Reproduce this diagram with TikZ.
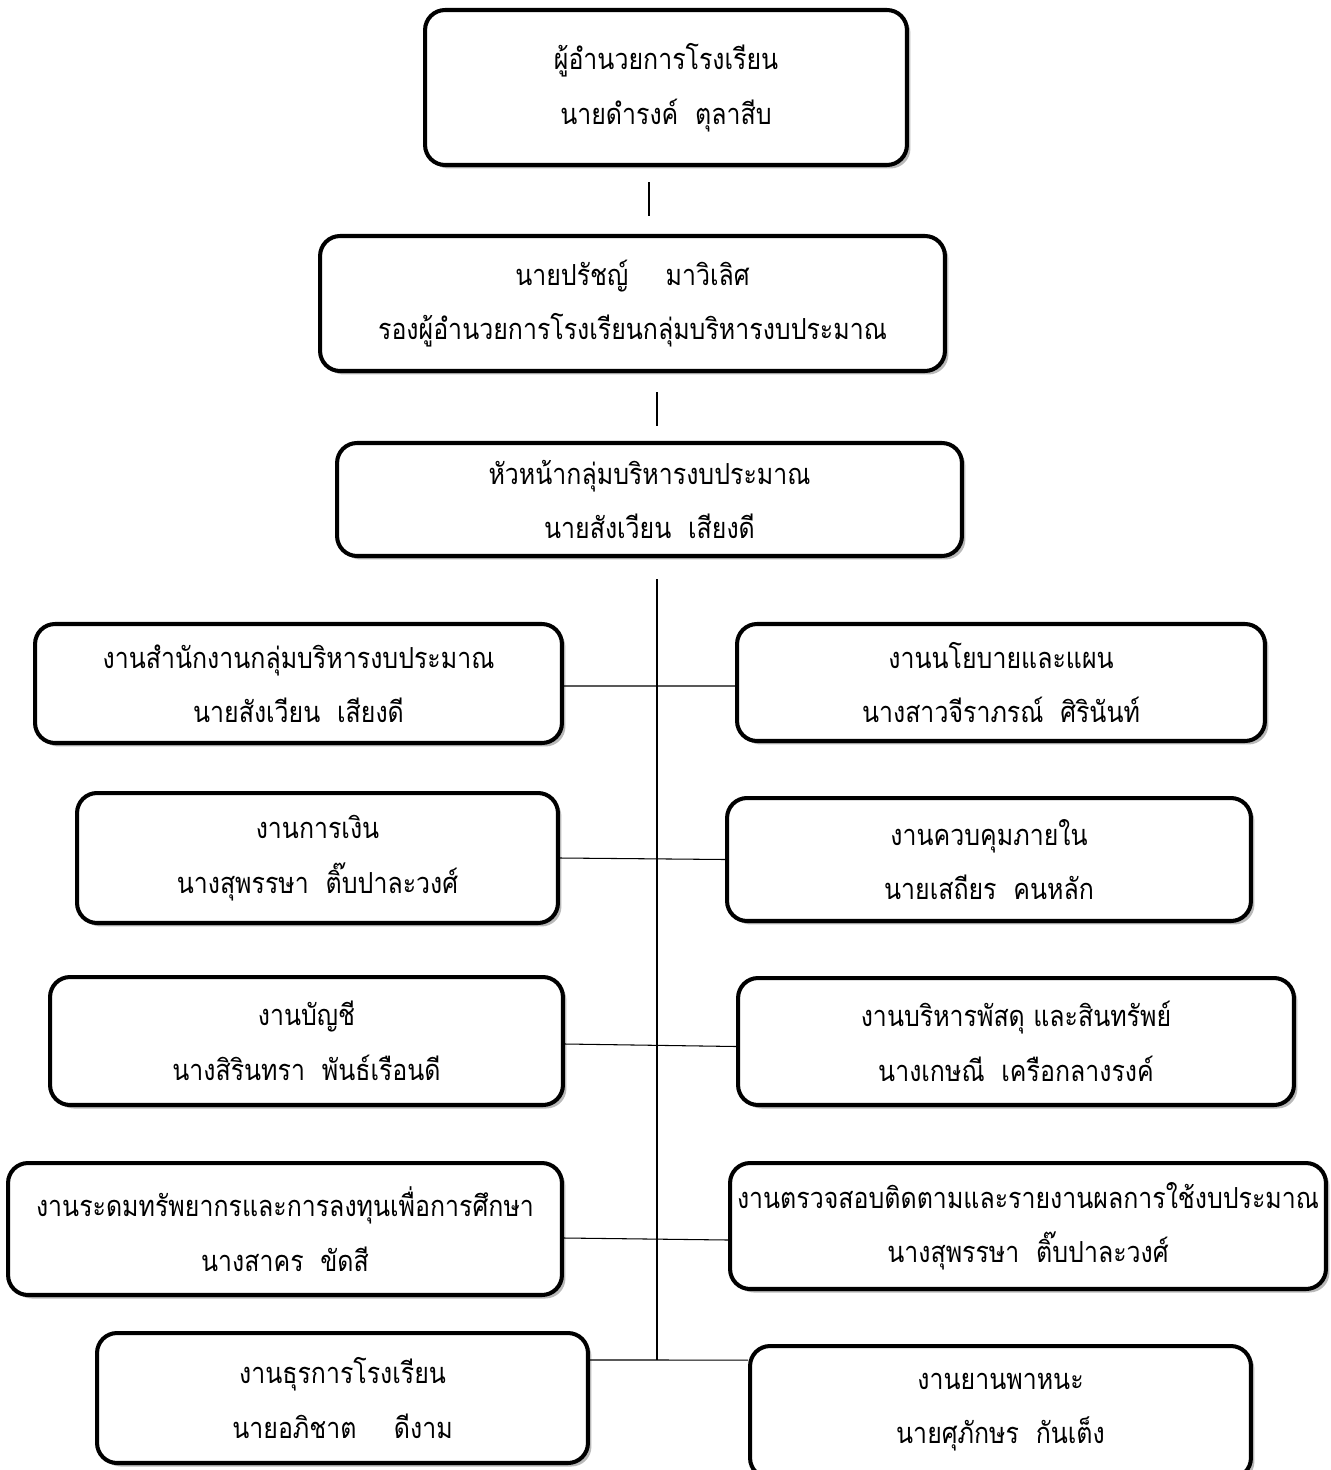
\documentclass[tikz,border=0pt]{standalone}
\usepackage{fontspec}
\newfontfamily\thaifont[Script=Thai,FakeStretch=0.86]{Loma}
\usetikzlibrary{shadows}

\begin{document}
\begin{tikzpicture}[x=0.02cm,y=-0.02cm,
  orgbox/.style={draw,line width=2.3pt,rounded corners=0.4cm,fill=white,
                 align=center,inner sep=2pt,
                 font={\thaifont\fontsize{16.5}{31}\selectfont},
                 drop shadow={shadow xshift=0.07cm,shadow yshift=-0.07cm,fill=black!55}},
  link/.style={line width=0.6pt}]
\useasboundingbox (0,0) rectangle (1331,1470);
% top of the chart
\node[orgbox,minimum width=9.64cm,minimum height=3.1cm] (dir) at (666,87.5)
  {ผู้อำนวยการโรงเรียน\\นายดำรงค์~~ตุลาสีบ};
\node[orgbox,minimum width=12.5cm,minimum height=2.7cm] (dep) at (632.5,303.5)
  {นายปรัชญ์\quad~มาวิเลิศ\\รองผู้อำนวยการโรงเรียนกลุ่มบริหารงบประมาณ};
\node[orgbox,minimum width=12.5cm,minimum height=2.26cm] (head) at (649.5,499.5)
  {หัวหน้ากลุ่มบริหารงบประมาณ\\นายสังเวียน~~เสียงดี};
% left column
\node[orgbox,minimum width=10.54cm,minimum height=2.38cm] (l1) at (298.5,683.5)
  {งานสำนักงานกลุ่มบริหารงบประมาณ\\นายสังเวียน~~เสียงดี};
\node[orgbox,minimum width=9.62cm,minimum height=2.6cm] (l2) at (317.5,858)
  {งานการเงิน\\นางสุพรรษา~~ติ๊บปาละวงศ์};
\node[orgbox,minimum width=10.26cm,minimum height=2.56cm] (l3) at (306.5,1041)
  {งานบัญชี\\นางสิรินทรา~~พันธ์เรือนดี};
\node[orgbox,minimum width=11.08cm,minimum height=2.64cm] (l4) at (285,1229)
  {งานระดมทรัพยากรและการลงทุนเพื่อการศึกษา\\นางสาคร~~ขัดสี};
\node[orgbox,minimum width=9.82cm,minimum height=2.6cm] (l5) at (342.5,1398)
  {งานธุรการโรงเรียน\\นายอภิชาต\quad~ดีงาม};
% right column
\node[orgbox,minimum width=10.56cm,minimum height=2.34cm] (r1) at (1001,682.5)
  {งานนโยบายและแผน\\นางสาวจีราภรณ์~~ศิรินันท์};
\node[orgbox,minimum width=10.48cm,minimum height=2.46cm] (r2) at (989,859.5)
  {งานควบคุมภายใน\\นายเสถียร~~คนหลัก};
\node[orgbox,minimum width=11.12cm,minimum height=2.54cm] (r3) at (1016,1041.5)
  {งานบริหารพัสดุ และสินทรัพย์\\นางเกษณี~~เครือกลางรงค์};
\node[orgbox,minimum width=11.92cm,minimum height=2.52cm] (r4) at (1028,1226)
  {งานตรวจสอบติดตามและรายงานผลการใช้งบประมาณ\\นางสุพรรษา~~ติ๊บปาละวงศ์};
\node[orgbox,minimum width=10.02cm,minimum height=2.64cm] (r5) at (1000.5,1412)
  {งานยานพาหนะ\\นายศุภักษร~~กันเต็ง};
% connectors
\coordinate (x1) at (649,0);
\coordinate (tr) at (657,0);
\coordinate (j5) at ([yshift=0.76cm]l5.east);
\draw[link,shorten <=0.3cm,shorten >=0.36cm] (dir.south -| x1) -- (dep.north -| x1);
\draw[link,shorten <=0.38cm,shorten >=0.3cm] (dep.south -| tr) -- (head.north -| tr);
\draw[link,shorten <=0.42cm] (head.south -| tr) -- (j5 -| tr);
\draw[link] ([yshift=-0.05cm]l1.east) -- ([yshift=-0.07cm]r1.west);
\draw[link] (l2.east) -- (r2.west);
\draw[link] ([yshift=-0.06cm]l3.east) -- ([yshift=-0.1cm]r3.west);
\draw[link] ([yshift=-0.18cm]l4.east) -- ([yshift=-0.28cm]r4.west);
\draw[link] (j5) -- ([yshift=1.04cm]r5.west);
\end{tikzpicture}
\end{document}
